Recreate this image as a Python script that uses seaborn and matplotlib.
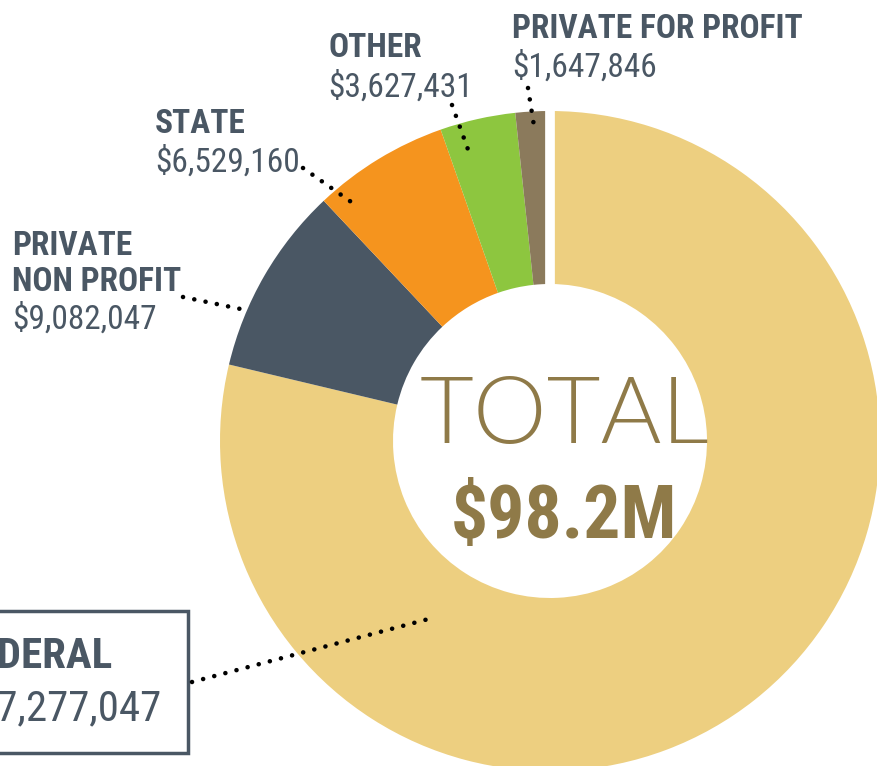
import numpy as np
import matplotlib.pyplot as plt
import seaborn as sns

# Data
categories = ['FEDERAL', 'PRIVATE\nNON PROFIT', 'STATE', 'OTHER', 'PRIVATE FOR PROFIT']
values = [77277047, 9082047, 6529160, 3627431, 1647846]
colors = ['#edcf80', '#4a5764', '#f5941e', '#8dc63f', '#8b7a5c']
total_label = '$98.2M'

sns.set_style('white')
plt.rcParams['font.family'] = ['Roboto Condensed', 'DejaVu Sans']

W, H = 877, 766
fig = plt.figure(figsize=(W / 100, H / 100), dpi=100)
ax = fig.add_axes([0, 0, 1, 1])

cx, cy = 550, H - 441
R, r_in = 330, 157

ax.pie(values, colors=colors, startangle=90, counterclock=False,
       center=(cx, cy), radius=R,
       wedgeprops=dict(width=R - r_in, linewidth=0))

# white gap where the ring starts
ax.plot([cx, cx], [cy + r_in - 2, cy + R + 2], color='white', lw=7, solid_capstyle='butt')

ax.set_xlim(0, W)
ax.set_ylim(0, H)
ax.set_aspect('equal')
ax.axis('off')

text_col = '#4a5764'
gold = '#8f7a48'

# label layout: x, name baseline, value baseline, leader start, leader end (angle, radius)
layout = {
    'FEDERAL': dict(x=-45, yn=668, yv=720, fs=31, start=(192, 682), ang=237, rad=210),
    'PRIVATE\nNON PROFIT': dict(x=12, yn=291, yv=329, fs=24, start=(183, 297), ang=156.6, rad=328),
    'STATE': dict(x=155, yn=133, yv=172, fs=24, start=(303, 168), ang=129.4, rad=304),
    'OTHER': dict(x=328, yn=57, yv=97, fs=24, start=(452, 105), ang=105.7, rad=302),
    'PRIVATE FOR PROFIT': dict(x=512, yn=38, yv=77, fs=24, start=(528, 88), ang=92.9, rad=315),
}

for name, val in zip(categories, values):
    L = layout[name]
    lines = name.split('\n')
    step = 36
    for i, ln in enumerate(lines):
        ax.text(L['x'], H - (L['yn'] - step * (len(lines) - 1 - i)), ln,
                fontsize=L['fs'], fontweight='bold', color=text_col,
                ha='left', va='baseline')
    ax.text(L['x'], H - L['yv'], f'${val:,}', fontsize=L['fs'],
            color=text_col, ha='left', va='baseline')
    a = np.deg2rad(L['ang'])
    ex, ey = cx + L['rad'] * np.cos(a), cy + L['rad'] * np.sin(a)
    sx, sy = L['start'][0], H - L['start'][1]
    ax.plot([sx, ex], [sy, ey], color='black', lw=3.3,
            linestyle=(0, (0.01, 2.5)), dash_capstyle='round')

# federal box
ax.add_patch(plt.Rectangle((-10, H - 753), 198, 142, fill=False,
                           edgecolor=text_col, lw=2.5))

# centre text
ax.text(564, H - 443, 'TOTAL', fontsize=67, family=['Lato', 'DejaVu Sans'],
        fontweight=300, color=gold, ha='center', va='baseline')
ax.text(564, H - 538, total_label, fontsize=53, fontweight='bold',
        color=gold, ha='center', va='baseline')

fig.savefig('out.png', dpi=100)
